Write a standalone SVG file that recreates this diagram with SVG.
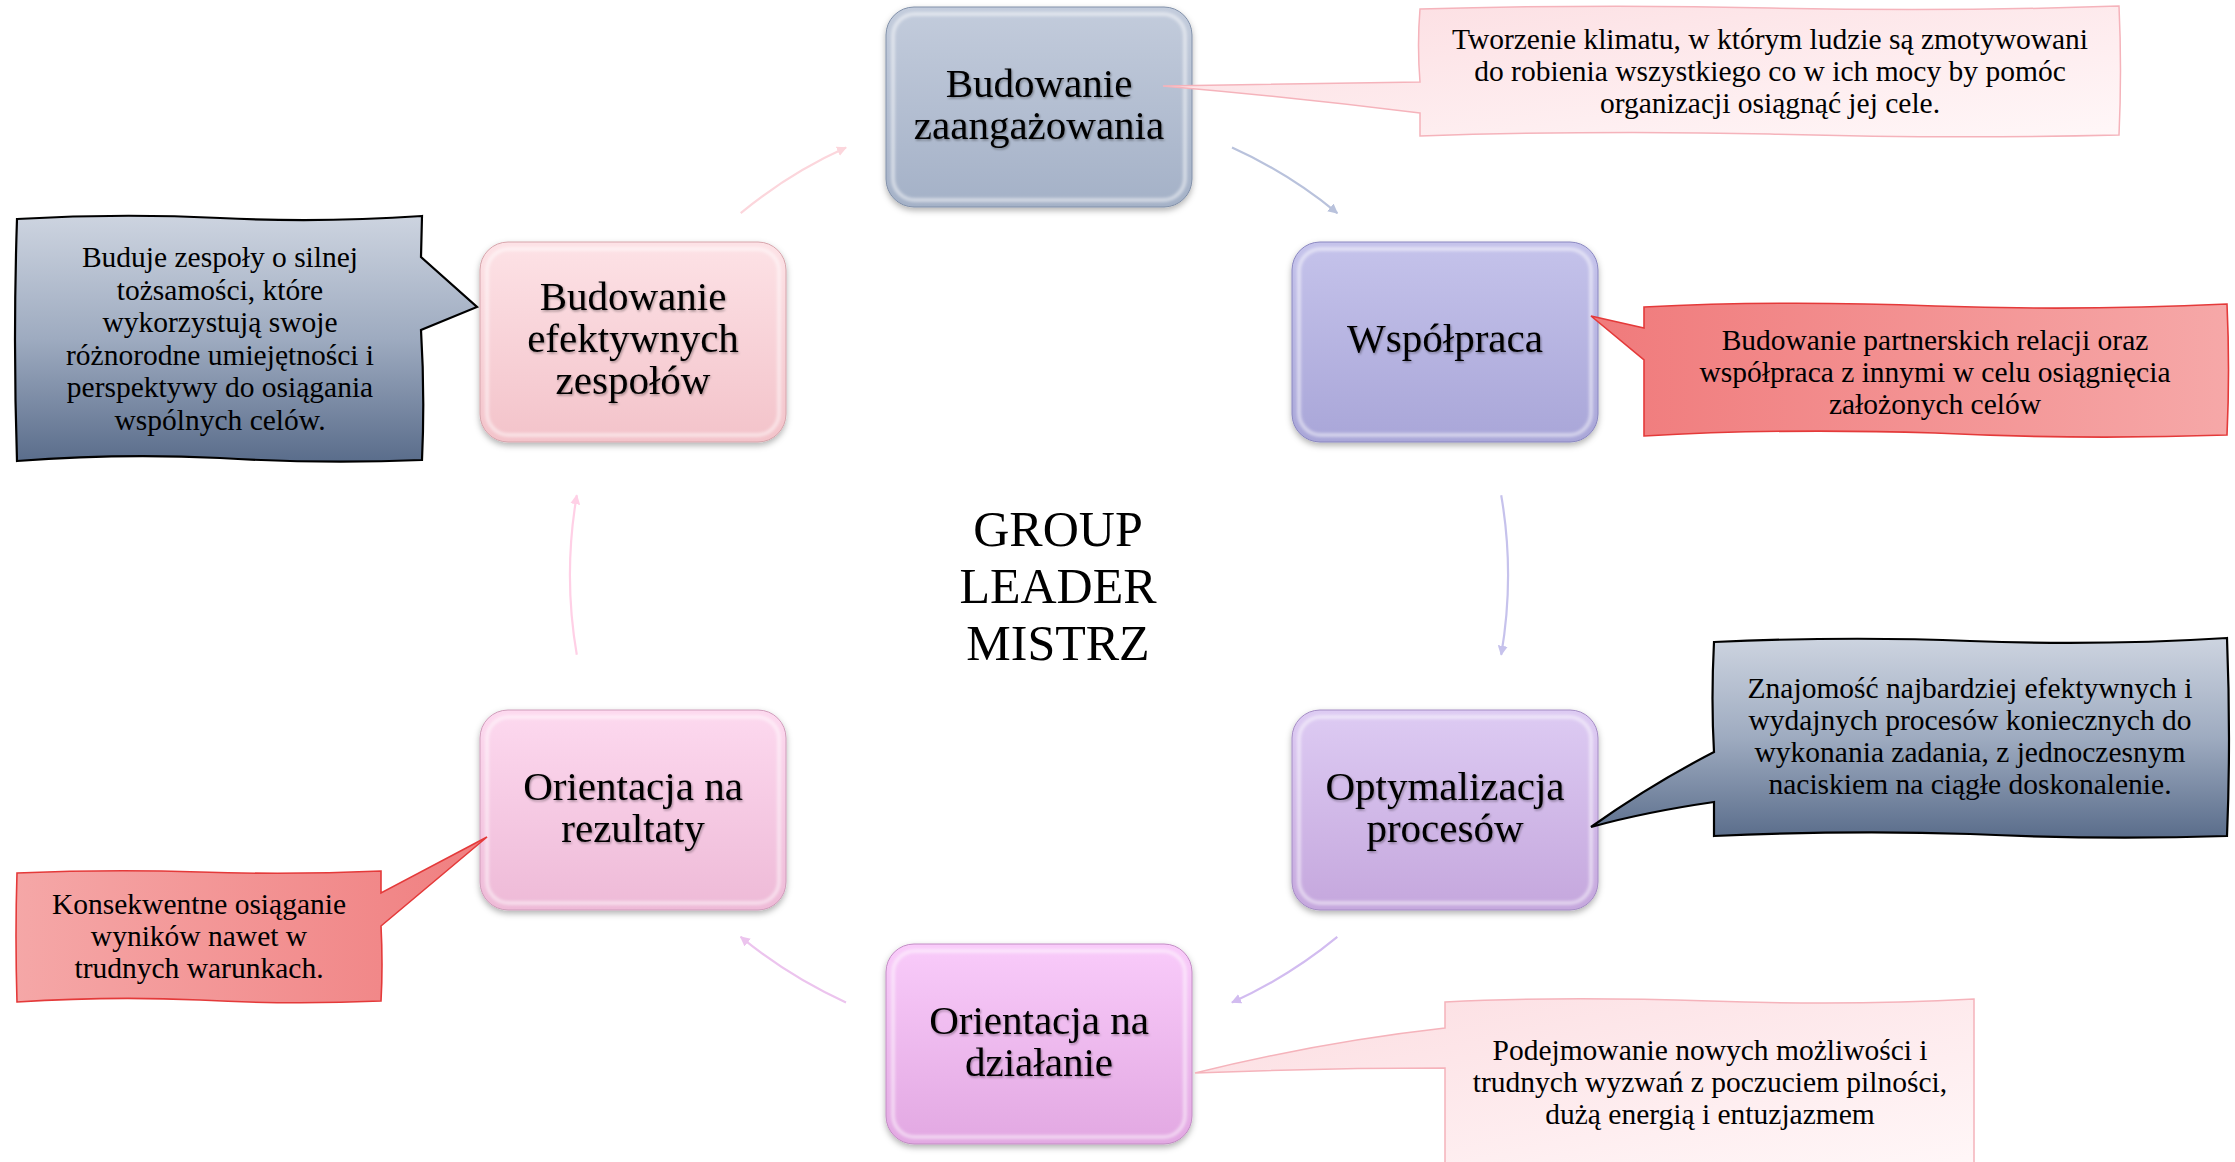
<svg xmlns="http://www.w3.org/2000/svg" width="2235" height="1162" viewBox="0 0 2235 1162">
<defs>
<style>
.nt{font-family:"Liberation Serif","Times New Roman",serif;font-size:41px;fill:#000;text-anchor:middle}
.ct{font-family:"Liberation Serif","Times New Roman",serif;font-size:29.5px;fill:#000;text-anchor:middle}
.tt{font-family:"Liberation Serif","Times New Roman",serif;font-size:50px;fill:#000;text-anchor:middle}
.hl{fill:none;stroke:#fff;stroke-opacity:.5;stroke-width:4}
.cn{fill:none;stroke-width:2.2}
</style>
<filter id="sh" x="-10%" y="-10%" width="120%" height="130%"><feDropShadow dx="0" dy="3" stdDeviation="3" flood-color="#000" flood-opacity=".3"/></filter>
<filter id="ts" x="-5%" y="-20%" width="110%" height="140%"><feDropShadow dx="1" dy="1.5" stdDeviation="1" flood-color="#000" flood-opacity=".35"/></filter>
<filter id="bl"><feGaussianBlur stdDeviation="1.5"/></filter>
<linearGradient id="g1" x1="0" y1="0" x2="0" y2="1"><stop offset="0" stop-color="#c3ccdc"/><stop offset="1" stop-color="#a4b1c7"/></linearGradient>
<linearGradient id="g2" x1="0" y1="0" x2="0" y2="1"><stop offset="0" stop-color="#c5c3eb"/><stop offset="1" stop-color="#a9a6d8"/></linearGradient>
<linearGradient id="g3" x1="0" y1="0" x2="0" y2="1"><stop offset="0" stop-color="#ddcbf3"/><stop offset="1" stop-color="#c5a7dd"/></linearGradient>
<linearGradient id="g4" x1="0" y1="0" x2="0" y2="1"><stop offset="0" stop-color="#f9cbfa"/><stop offset="1" stop-color="#e2a8e2"/></linearGradient>
<linearGradient id="g5" x1="0" y1="0" x2="0" y2="1"><stop offset="0" stop-color="#fdd9ef"/><stop offset="1" stop-color="#eebad7"/></linearGradient>
<linearGradient id="g6" x1="0" y1="0" x2="0" y2="1"><stop offset="0" stop-color="#fde2e6"/><stop offset="1" stop-color="#f3c3ca"/></linearGradient>
<linearGradient id="pk" x1="0" y1="0" x2="1" y2="1"><stop offset="0" stop-color="#fcdde1"/><stop offset="1" stop-color="#fff7f8"/></linearGradient>
<linearGradient id="rdR" x1="0" y1="0" x2="1" y2="0"><stop offset="0" stop-color="#f07a7b"/><stop offset="1" stop-color="#f6a8a8"/></linearGradient>
<linearGradient id="rdL" x1="0" y1="0" x2="1" y2="0"><stop offset="0" stop-color="#f5a7a7"/><stop offset="1" stop-color="#f07f80"/></linearGradient>
<linearGradient id="sl" x1="0" y1="0" x2="0" y2="1"><stop offset="0" stop-color="#cdd4e0"/><stop offset=".5" stop-color="#9eabc0"/><stop offset="1" stop-color="#5a6d8b"/></linearGradient>
<marker id="m1" viewBox="0 0 10 10" refX="9" refY="5" markerWidth="10" markerHeight="10" markerUnits="userSpaceOnUse" orient="auto"><path d="M0 0 L10 5 L0 10 Z" fill="#b9c2dc"/></marker>
<marker id="m2" viewBox="0 0 10 10" refX="9" refY="5" markerWidth="10" markerHeight="10" markerUnits="userSpaceOnUse" orient="auto"><path d="M0 0 L10 5 L0 10 Z" fill="#c6c2ec"/></marker>
<marker id="m3" viewBox="0 0 10 10" refX="9" refY="5" markerWidth="10" markerHeight="10" markerUnits="userSpaceOnUse" orient="auto"><path d="M0 0 L10 5 L0 10 Z" fill="#d2bcf0"/></marker>
<marker id="m4" viewBox="0 0 10 10" refX="9" refY="5" markerWidth="10" markerHeight="10" markerUnits="userSpaceOnUse" orient="auto"><path d="M0 0 L10 5 L0 10 Z" fill="#ecc4ee"/></marker>
<marker id="m5" viewBox="0 0 10 10" refX="9" refY="5" markerWidth="10" markerHeight="10" markerUnits="userSpaceOnUse" orient="auto"><path d="M0 0 L10 5 L0 10 Z" fill="#ffd0e6"/></marker>
<marker id="m6" viewBox="0 0 10 10" refX="9" refY="5" markerWidth="10" markerHeight="10" markerUnits="userSpaceOnUse" orient="auto"><path d="M0 0 L10 5 L0 10 Z" fill="#fcd6dc"/></marker>
</defs>
<rect width="2235" height="1162" fill="#fff"/>

<g id="connectors">
<path class="cn" stroke="#b9c2dc" marker-end="url(#m1)" d="M1232 147.6 A469 469 0 0 1 1337.3 213.1"/>
<path class="cn" stroke="#c6c2ec" marker-end="url(#m2)" d="M1501.2 495.2 A469 469 0 0 1 1501.2 654.8"/>
<path class="cn" stroke="#d2bcf0" marker-end="url(#m3)" d="M1337.3 936.9 A469 469 0 0 1 1232 1002.4"/>
<path class="cn" stroke="#ecc4ee" marker-end="url(#m4)" d="M846 1002.4 A469 469 0 0 1 740.7 936.9"/>
<path class="cn" stroke="#ffd0e6" marker-end="url(#m5)" d="M576.8 654.8 A469 469 0 0 1 576.8 495.2"/>
<path class="cn" stroke="#fcd6dc" marker-end="url(#m6)" d="M740.7 213.1 A469 469 0 0 1 846 147.6"/>
</g>

<g id="title">
<text class="tt" x="1058" y="546">GROUP</text>
<text class="tt" x="1058" y="603">LEADER</text>
<text class="tt" x="1058" y="660">MISTRZ</text>
</g>

<g id="node1">
<rect x="886" y="7" width="306" height="200" rx="28" fill="url(#g1)" stroke="#8190a9" filter="url(#sh)"/>
<rect x="893" y="14" width="292" height="186" rx="22" class="hl" filter="url(#bl)"/>
<text class="nt" filter="url(#ts)" x="1039" y="97">Budowanie</text>
<text class="nt" filter="url(#ts)" x="1039" y="139">zaangażowania</text>
</g>
<g id="node2">
<rect x="1292" y="242" width="306" height="200" rx="28" fill="url(#g2)" stroke="#8a87c0" filter="url(#sh)"/>
<rect x="1299" y="249" width="292" height="186" rx="22" class="hl" filter="url(#bl)"/>
<text class="nt" filter="url(#ts)" x="1445" y="352">Współpraca</text>
</g>
<g id="node3">
<rect x="1292" y="710" width="306" height="200" rx="28" fill="url(#g3)" stroke="#a48cc4" filter="url(#sh)"/>
<rect x="1299" y="717" width="292" height="186" rx="22" class="hl" filter="url(#bl)"/>
<text class="nt" filter="url(#ts)" x="1445" y="800">Optymalizacja</text>
<text class="nt" filter="url(#ts)" x="1445" y="842">procesów</text>
</g>
<g id="node4">
<rect x="886" y="944" width="306" height="200" rx="28" fill="url(#g4)" stroke="#c28cc4" filter="url(#sh)"/>
<rect x="893" y="951" width="292" height="186" rx="22" class="hl" filter="url(#bl)"/>
<text class="nt" filter="url(#ts)" x="1039" y="1034">Orientacja na</text>
<text class="nt" filter="url(#ts)" x="1039" y="1076">działanie</text>
</g>
<g id="node5">
<rect x="480" y="710" width="306" height="200" rx="28" fill="url(#g5)" stroke="#cf9cba" filter="url(#sh)"/>
<rect x="487" y="717" width="292" height="186" rx="22" class="hl" filter="url(#bl)"/>
<text class="nt" filter="url(#ts)" x="633" y="800">Orientacja na</text>
<text class="nt" filter="url(#ts)" x="633" y="842">rezultaty</text>
</g>
<g id="node6">
<rect x="480" y="242" width="306" height="200" rx="28" fill="url(#g6)" stroke="#d6a4ab" filter="url(#sh)"/>
<rect x="487" y="249" width="292" height="186" rx="22" class="hl" filter="url(#bl)"/>
<text class="nt" filter="url(#ts)" x="633" y="310">Budowanie</text>
<text class="nt" filter="url(#ts)" x="633" y="352">efektywnych</text>
<text class="nt" filter="url(#ts)" x="633" y="394">zespołów</text>
</g>

<g id="callout-top">
<path d="M1420 9 Q1600 4 1770 8 Q1950 12 2119 6 Q2122 70 2119 135 Q1950 139 1770 134 Q1600 130 1420 136 L1420 113 Q1290 97 1163 86 Q1290 84 1420 82 Q1417 45 1420 9 Z" fill="url(#pk)" stroke="#f5b3bb" stroke-width="1.5"/>
<text class="ct" x="1770" y="49">Tworzenie klimatu, w którym ludzie są zmotywowani</text>
<text class="ct" x="1770" y="81">do robienia wszystkiego co w ich mocy by pomóc</text>
<text class="ct" x="1770" y="113">organizacji osiągnąć jej cele.</text>
</g>
<g id="callout-wspolpraca">
<path d="M1644 307 Q1780 300 1935 306 Q2080 311 2227 304 Q2230 370 2227 435 Q2080 440 1935 433 Q1780 428 1644 436 L1644 360 L1591 316 L1644 328 Z" fill="url(#rdR)" stroke="#e43a3a" stroke-width="1.6"/>
<text class="ct" x="1935" y="350">Budowanie partnerskich relacji oraz</text>
<text class="ct" x="1935" y="382">współpraca z innymi w celu osiągnięcia</text>
<text class="ct" x="1935" y="414">założonych celów</text>
</g>
<g id="callout-procesy">
<path d="M1714 642 Q1850 636 1970 641 Q2100 646 2227 638 Q2231 740 2227 836 Q2100 840 1970 834 Q1850 830 1714 836 L1714 802 Q1645 812 1591 827 Q1650 785 1714 752 Q1711 700 1714 642 Z" fill="url(#sl)" stroke="#000" stroke-width="2.2"/>
<text class="ct" x="1970" y="698">Znajomość najbardziej efektywnych i</text>
<text class="ct" x="1970" y="730">wydajnych procesów koniecznych do</text>
<text class="ct" x="1970" y="762">wykonania zadania, z jednoczesnym</text>
<text class="ct" x="1970" y="794">naciskiem na ciągłe doskonalenie.</text>
</g>
<g id="callout-dzialanie">
<path d="M1445 1002 Q1560 996 1710 1001 Q1850 1006 1974 999 L1974 1170 L1445 1170 L1445 1068 Q1320 1068 1195 1073 Q1320 1042 1445 1028 Z" fill="url(#pk)" stroke="#f5b3bb" stroke-width="1.5"/>
<text class="ct" x="1710" y="1060">Podejmowanie nowych możliwości i</text>
<text class="ct" x="1710" y="1092">trudnych wyzwań z poczuciem pilności,</text>
<text class="ct" x="1710" y="1124">dużą energią i entuzjazmem</text>
</g>
<g id="callout-rezultaty">
<path d="M17 873 Q110 869 200 872 Q290 875 381 871 L381 893 L487 837 L381 926 Q383 965 381 1001 Q290 1005 200 1000 Q110 996 17 1002 Q15 935 17 873 Z" fill="url(#rdL)" stroke="#e43a3a" stroke-width="1.6"/>
<text class="ct" x="199" y="914">Konsekwentne osiąganie</text>
<text class="ct" x="199" y="946">wyników nawet w</text>
<text class="ct" x="199" y="978">trudnych warunkach.</text>
</g>
<g id="callout-zespoly">
<path d="M17 219 Q120 213 220 218 Q320 223 422 216 L421 257 L477 307 L421 330 Q425 395 422 460 Q320 464 220 458 Q120 453 17 461 Q13 340 17 219 Z" fill="url(#sl)" stroke="#000" stroke-width="2.2"/>
<text class="ct" x="220" y="267">Buduje zespoły o silnej</text>
<text class="ct" x="220" y="299.5">tożsamości, które</text>
<text class="ct" x="220" y="332">wykorzystują swoje</text>
<text class="ct" x="220" y="364.5">różnorodne umiejętności i</text>
<text class="ct" x="220" y="397">perspektywy do osiągania</text>
<text class="ct" x="220" y="429.5">wspólnych celów.</text>
</g>
</svg>
